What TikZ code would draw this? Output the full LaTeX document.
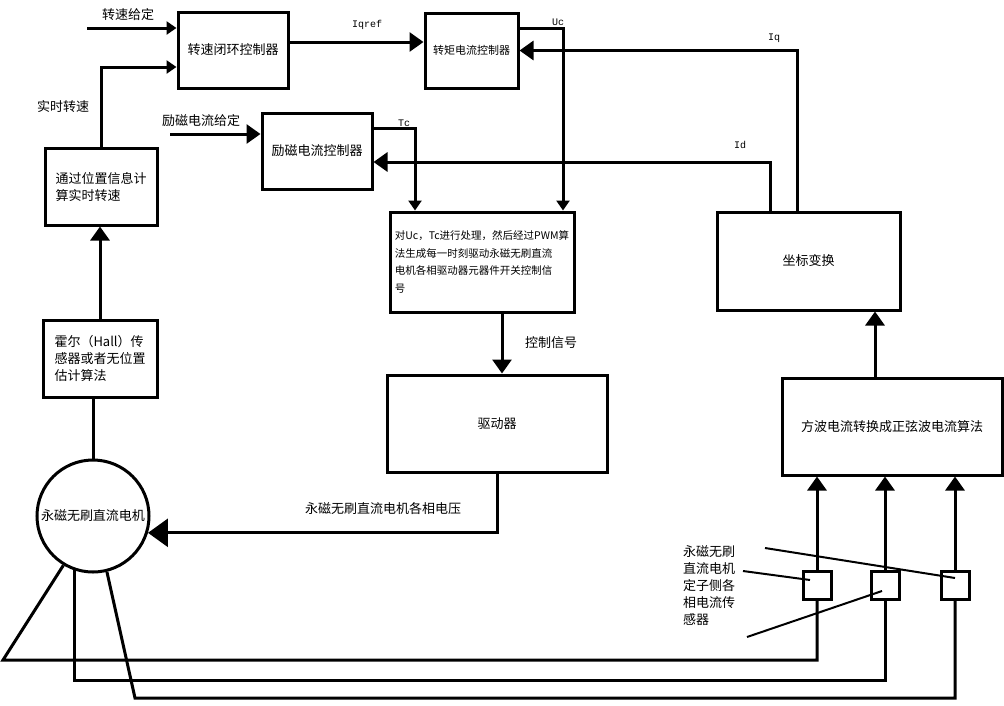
\documentclass[tikz,border=0pt]{standalone}
\usepackage{fontspec}
\setmainfont{Noto Sans CJK SC}
\setmonofont{Liberation Mono}
\usetikzlibrary{calc,arrows.meta}

\begin{document}
\begin{tikzpicture}[x=1pt,y=-1pt,line width=3pt,
	blk/.style={draw,inner sep=0pt,font=\fontsize{13}{17}\selectfont},
	lbl/.style={inner sep=0pt,font=\fontsize{13}{17}\selectfont},
	tlbl/.style={inner sep=0pt,font=\ttfamily\fontsize{10}{12}\selectfont},
	arr/.style={-{Triangle[length=14pt,width=19pt]}},
	sarr/.style={-{Triangle[length=10pt,width=13pt]}},
	barr/.style={-{Triangle[length=20pt,width=28pt]}}]
	\useasboundingbox (0,0) rectangle (1004,705);
	
	%blocks
	\node[blk,minimum width=110pt,minimum height=76pt] (spd) at (233,50) {转速闭环控制器};
	\node[blk,minimum width=93pt,minimum height=75pt,font=\fontsize{11}{14}\selectfont] (trq) at (471.5,50.5) {转矩电流控制器};
	\node[blk,minimum width=110pt,minimum height=76pt] (exc) at (317,151) {励磁电流控制器};
	\node[blk,align=left,minimum width=112pt,minimum height=77pt] (pos) at (101,186.5) {通过位置信息计\\算实时转速};
	\node[blk,align=left,minimum width=114pt,minimum height=77pt] (hall) at (100,358.5) {霍尔（Hall）传\\感器或者无位置\\估计算法};
	\node[blk,align=left,minimum width=184pt,minimum height=100pt,font=\fontsize{10.5}{17.5}\selectfont] (pwm) at (482,262) {对Uc，Tc进行处理，然后经过PWM算\\法生成每一时刻驱动永磁无刷直流\\电机各相驱动器元器件开关控制信\\号};
	\node[blk,minimum width=183pt,minimum height=98pt] (coord) at (808.5,261) {坐标变换};
	\node[blk,minimum width=220pt,minimum height=97pt] (drv) at (497,423.5) {驱动器};
	\node[blk,minimum width=220pt,minimum height=97pt] (sine) at (892,426.5) {方波电流转换成正弦波电流算法};
	\node[blk,circle,minimum size=112pt] (motor) at (93,516) {永磁无刷直流电机};
	
	%sensors
	\foreach \n/\x in {1/817,2/885,3/955}{
		\node[draw,fill=white,minimum size=28pt,inner sep=0pt] (s\n) at (\x,585) {};
		\draw[arr] (s\n.north) -- (s\n.north |- sine.south);
	}
	
	%labels
	\node[lbl] (lspd) at (128,15) {转速给定};
	\node[lbl] (lrt) at (63,107) {实时转速};
	\node[lbl] (lexc) at (201,121) {励磁电流给定};
	\node[tlbl] (liqref) at (367,25) {Iqref};
	\node[tlbl] (luc) at (558,22) {Uc};
	\node[tlbl] (ltc) at (404,123) {Tc};
	\node[tlbl] (liq) at (774,38) {Iq};
	\node[tlbl] (lid) at (740,145) {Id};
	\node[lbl] (lctl) at (551,343) {控制信号};
	\node[lbl] (lvolt) at (383,509) {永磁无刷直流电机各相电压};
	\node[lbl,align=left] (lsens) at (709,586) {永磁无刷\\直流电机\\定子侧各\\相电流传\\感器};
	
	%signal lines
	\coordinate (spdin) at (87,28);
	\coordinate (excin) at (170,134);
	\draw[sarr] (spdin) -- (spdin -| spd.west);
	\draw[sarr] (pos.north) |- ([yshift=-17pt]spd.west);
	\draw[arr] ([yshift=8pt]spd.east) -- ([yshift=8pt]spd.east -| trq.west);
	\draw[sarr] ([yshift=22pt]trq.east) -| ([xshift=81pt]pwm.north);
	\draw[arr] ([xshift=-11.5pt]coord.north) |- (trq.east);
	\draw[arr] (excin) -- (excin -| exc.west);
	\draw[sarr] ([yshift=23pt]exc.east) -| ([xshift=-67pt]pwm.north);
	\draw[arr] ([xshift=-38.5pt]coord.north) |- ([yshift=-11pt]exc.east);
	\draw[arr] (hall.north) -- (hall.north |- pos.south);
	\draw (motor.north) -- (motor.north |- hall.south);
	\draw[arr] ([xshift=20pt]pwm.south) -- ([xshift=20pt]pwm.south |- drv.north);
	\draw[barr] (drv.south) |- (motor.-17);
	\draw[arr] ([xshift=-17pt]sine.north) -- ([xshift=-17pt]sine.north |- coord.south);
	
	%phase wires
	\coordinate (w1) at (3,660);
	\coordinate (w2) at (0,680);
	\coordinate (w3) at (135,698);
	\draw (motor.239) -- (w1) -| (s1.south);
	\draw (motor.251) -- (motor.251 |- w2) -| (s2.south);
	\draw (motor.284) -- (w3) -| (s3.south);
	
	%leaders
	\coordinate (t1) at (765,548);
	\coordinate (t2) at (743,571);
	\coordinate (t3) at (747,637);
	\draw[line width=2pt] (t1) -- ([yshift=7pt]s3.center);
	\draw[line width=2pt] (t2) -- ([shift={(-7pt,5pt)}]s1.center);
	\draw[line width=2pt] (t3) -- ([shift={(-3pt,-6pt)}]s2.center);
\end{tikzpicture}
\end{document}
